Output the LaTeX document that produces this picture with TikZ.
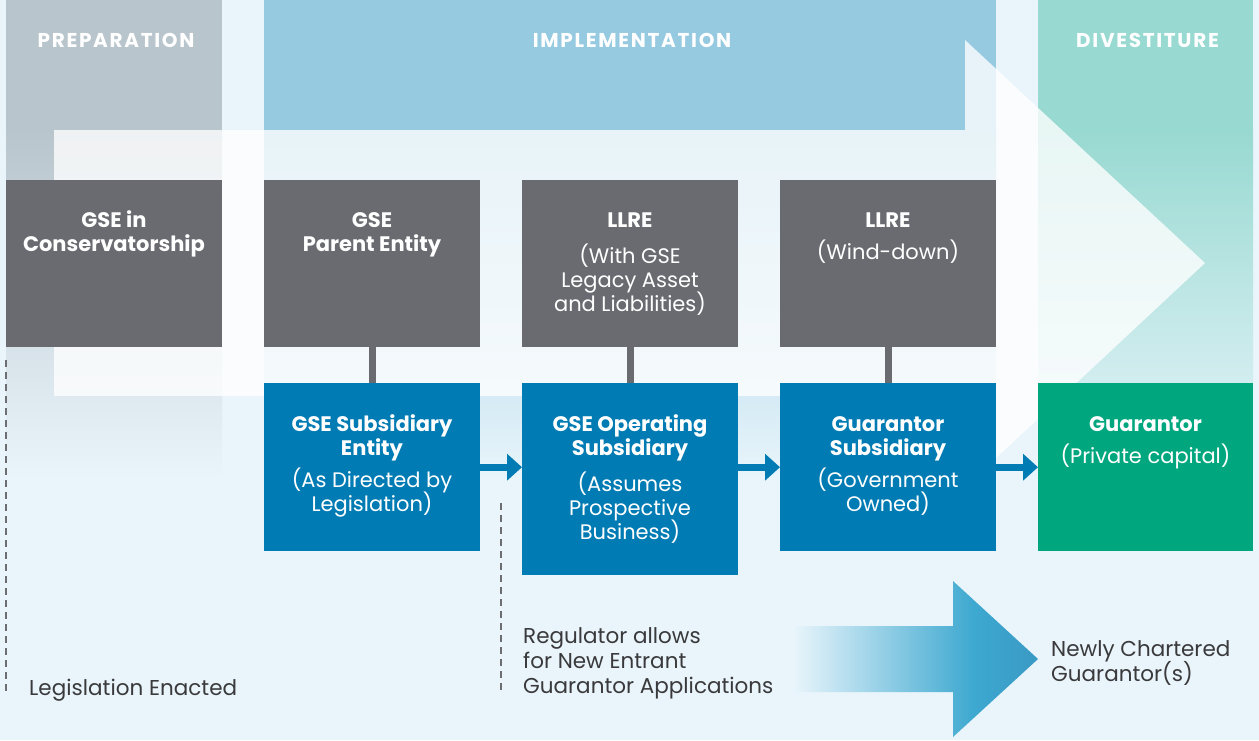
\documentclass[tikz,border=0pt]{standalone}
\usepackage{fontspec}
\setmainfont{Poppins}
\usetikzlibrary{arrows.meta}
\definecolor{bg}{HTML}{E9F5FB}
\definecolor{prepcol}{HTML}{B9C5CC}
\definecolor{implcol}{HTML}{96CAE1}
\definecolor{divcol}{HTML}{98D9D1}
\definecolor{boxgray}{HTML}{696B70}
\definecolor{boxblue}{HTML}{007BB3}
\definecolor{boxgreen}{HTML}{00A77E}
\definecolor{dashgray}{HTML}{6D6E71}
\definecolor{txtdark}{HTML}{3A3A3C}
\definecolor{bigarrowA}{HTML}{3DA8D0}
\definecolor{bigarrowB}{HTML}{3A9AC4}
\pgfdeclarehorizontalshading{bigarrowshade}{100bp}{color(0bp)=(bg); color(25bp)=(bg); color(62bp)=(bigarrowA); color(75bp)=(bigarrowB); color(100bp)=(bigarrowB)}
\begin{document}
\begin{tikzpicture}[x=1pt,y=-1pt,
  box/.style={rectangle, inner sep=0pt, minimum width=216pt, anchor=north west},
  graybox/.style={box, fill=boxgray, minimum height=167pt},
  bluebox/.style={box, fill=boxblue, minimum height=168pt},
  greenbox/.style={box, fill=boxgreen, minimum height=168pt, minimum width=215pt},
  head/.style={text=white, inner sep=0pt, anchor=base, font=\fontsize{20}{24}\selectfont\bfseries\addfontfeatures{LetterSpace=8.5}},
  btitle/.style={text=white, inner sep=0pt, anchor=base, font=\fontsize{21}{24}\selectfont\bfseries},
  bsub/.style={text=white, inner sep=0pt, anchor=base, font=\fontsize{21}{24}\selectfont},
  note/.style={text=txtdark, inner sep=0pt, anchor=base west, font=\fontsize{21.5}{25}\selectfont},
  link/.style={draw=boxgray, line width=7.3pt},
  flow/.style={draw=boxblue, line width=7pt, -{Triangle[length=15pt,width=26pt]}},
  dashline/.style={draw=dashgray, line width=2.5pt, dash pattern=on 7pt off 5pt}
]
% background
\fill[bg] (0,0) rectangle (1259,740);
\useasboundingbox (0,0) rectangle (1259,740);
% phase columns
\fill[prepcol] (6,0) rectangle (222,130);
\shade[top color=prepcol, bottom color=bg] (6,130) rectangle (222,480);
\fill[implcol] (264,0) rectangle (996,130);
\shade[top color=implcol, bottom color=bg] (264,130) rectangle (996,480);
\fill[divcol] (1038,0) rectangle (1253,130);
\shade[top color=divcol, bottom color=bg] (1038,130) rectangle (1253,480);
% big translucent arrow
\fill[white, opacity=0.78] (54,130) -- (965,130) -- (965,40) -- (1205,263) -- (965,487) -- (965,396) -- (54,396) -- cycle;
% bottom gradient arrow
\shade[shading=bigarrowshade] (793,626) -- (953,626) -- (953,581) -- (1038,659) -- (953,737) -- (953,692) -- (793,692) -- cycle;
% dashed markers
\coordinate (d1top) at (6,360);
\coordinate (d1bot) at (6,694);
\coordinate (d2top) at (501,503);
\coordinate (d2bot) at (501,694);
\draw[dashline] (d1top) -- (d1bot);
\draw[dashline] (d2top) -- (d2bot);
% boxes
\node[graybox] (g1) at (6,180) {};
\node[graybox] (g2) at (264,180) {};
\node[graybox] (g3) at (522,180) {};
\node[graybox] (g4) at (780,180) {};
\node[bluebox] (b1) at (264,383) {};
\node[bluebox, minimum height=192pt] (b2) at (522,383) {};
\node[bluebox] (b3) at (780,383) {};
\node[greenbox] (gr) at (1038,383) {};
% connectors
\draw[link] (g2.south) -- (b1.north);
\draw[link] (g3.south) -- (b2.north);
\draw[link] (g4.south) -- (b3.north);
\draw[flow] (b1.east) -- (b2.west |- b1.east);
\draw[flow] (b2.east |- b3.west) -- (b3.west);
\draw[flow] (b3.east) -- (gr.west);
% headings
\node[head] (hprep) at (116,47) {PREPARATION};
\node[head] (himpl) at (632,47) {IMPLEMENTATION};
\node[head] (hdiv) at (1147.5,47) {DIVESTITURE};
% box texts
\node[btitle] (g1a) at (114,227) {GSE in};
\node[btitle] (g1b) at (114,251) {Conservatorship};
\node[btitle] (g2a) at (372,227) {GSE};
\node[btitle] (g2b) at (372,251) {Parent Entity};
\node[btitle] (g3a) at (630,227) {LLRE};
\node[bsub] (g3b) at (630,263) {(With GSE};
\node[bsub] (g3c) at (630,287) {Legacy Asset};
\node[bsub] (g3d) at (630,311) {and Liabilities)};
\node[btitle] (g4a) at (888,227) {LLRE};
\node[bsub] (g4b) at (888,259) {(Wind-down)};
\node[btitle] (b1a) at (372,431) {GSE Subsidiary};
\node[btitle] (b1b) at (372,455) {Entity};
\node[bsub] (b1c) at (372,487) {(As Directed by};
\node[bsub] (b1d) at (372,511) {Legislation)};
\node[btitle] (b2a) at (630,431) {GSE Operating};
\node[btitle] (b2b) at (630,455) {Subsidiary};
\node[bsub] (b2c) at (630,491) {(Assumes};
\node[bsub] (b2d) at (630,515) {Prospective};
\node[bsub] (b2e) at (630,539) {Business)};
\node[btitle] (b3a) at (888,431) {Guarantor};
\node[btitle] (b3b) at (888,455) {Subsidiary};
\node[bsub] (b3c) at (888,487) {(Government};
\node[bsub] (b3d) at (888,511) {Owned)};
\node[btitle] (gra) at (1145.5,431) {Guarantor};
\node[bsub] (grb) at (1145.5,463) {(Private capital)};
% notes
\node[note] (n1) at (29,695) {Legislation Enacted};
\node[note] (n2a) at (523,643) {Regulator allows};
\node[note] (n2b) at (523,668) {for New Entrant};
\node[note] (n2c) at (523,693) {Guarantor Applications};
\node[note] (n3a) at (1051,656) {Newly Chartered};
\node[note] (n3b) at (1051,681) {Guarantor(s)};
\end{tikzpicture}
\end{document}
